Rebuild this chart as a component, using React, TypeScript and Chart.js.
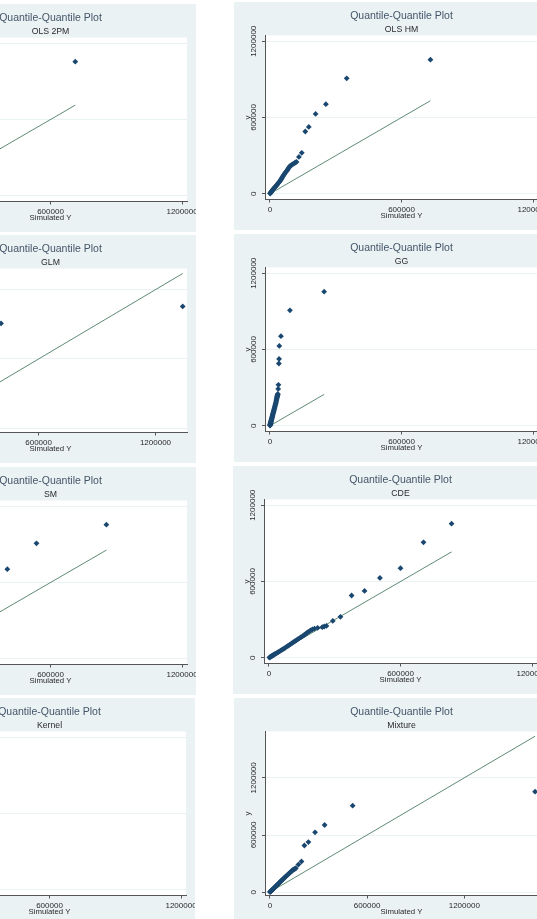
import React, { useEffect, useRef } from "react";
import { Chart, registerables } from "chart.js";

Chart.register(...registerables);

const FONT = "'Liberation Sans', Arial, Helvetica, sans-serif";
Chart.defaults.font.family = FONT;

// ---------- DATA ----------
// Observed y quantiles (sorted), shared by every panel
const observedY = [
  2000, 5000, 8000, 11000, 14000, 18000, 22000, 26000, 30000, 35000,
  40000, 45000, 50000, 56000, 62000, 68000, 74000, 80000, 87000, 94000,
  101000, 108000, 115000, 122000, 130000, 138000, 146000, 154000, 162000, 170000,
  178000, 186000, 194000, 202000, 210000, 218000, 224000, 230000, 236000, 241000,
  246000, 251000, 290000, 322000, 490000, 526000, 628000, 705000, 908000, 1055000,
];

// Simulated Y quantiles per model (sorted)
const simOLS2PM = [
  600, 1800, 3200, 4500, 6000, 7800, 9600, 11500, 13500, 16000,
  18500, 21000, 23500, 26500, 29500, 32500, 35500, 38500, 42000, 45500,
  49000, 52000, 55000, 58000, 61000, 64500, 68000, 71000, 74000, 77500,
  81000, 84500, 88000, 91500, 95000, 98500, 101000, 104000, 107000, 110000,
  113000, 117000, 125000, 140000, 158000, 180000, 215000, 260000, 330000, 713000,
];
const simOLSHM = [
  500, 1500, 2800, 4000, 5200, 6800, 8500, 10200, 12000, 14000,
  16500, 19000, 21500, 24500, 27500, 30500, 33000, 36000, 39500, 43000,
  46000, 48500, 51000, 53500, 56000, 59000, 62000, 65000, 68000, 71500,
  75000, 79000, 82000, 85000, 88000, 91000, 96000, 101000, 106000, 111000,
  116000, 121000, 132000, 145000, 161000, 177000, 208000, 255000, 350000, 732000,
];
const simGLM = [
  1500, 3500, 5500, 7500, 9500, 12000, 14500, 17000, 19500, 23000,
  26000, 29500, 32500, 36500, 40500, 44500, 48500, 52500, 57000, 61500,
  66000, 70500, 75000, 79500, 85000, 90000, 95000, 100000, 105000, 110000,
  115000, 120000, 125500, 131000, 136000, 141000, 145000, 149000, 153000, 157000,
  161000, 165000, 175000, 190000, 215000, 240000, 280000, 330000, 407000, 1340000,
];
const simGG = [
  200, 500, 900, 1300, 1700, 2200, 2800, 3400, 4000, 4700,
  5400, 6100, 6900, 7800, 8700, 9600, 10500, 11400, 12500, 13500,
  14600, 15600, 16700, 17800, 19000, 20200, 21400, 22600, 23800, 25000,
  26100, 27200, 28300, 29300, 30300, 31300, 32000, 32800, 33600, 34300,
  35000, 35800, 37500, 38500, 40500, 41500, 42500, 50000, 91000, 247000,
];
const simSM = [
  1500, 3800, 6000, 8300, 10500, 13500, 16500, 19500, 22500, 26000,
  30000, 34000, 37500, 42000, 46500, 51000, 55500, 60000, 65000, 70500,
  75500, 81000, 86000, 91500, 97500, 103500, 109500, 115500, 121500, 127500,
  133500, 139500, 145500, 151500, 157500, 163500, 168000, 172500, 177000, 181000,
  185000, 189000, 210000, 230000, 270000, 300000, 350000, 403000, 536000, 855000,
];
const simCDE = [
  1800, 4600, 7400, 10200, 13000, 16800, 20500, 24300, 28000, 33000,
  38000, 42500, 47500, 53000, 58500, 64000, 69500, 75000, 81000, 87000,
  93000, 99000, 105000, 111000, 118000, 125000, 132000, 139000, 146000, 153000,
  160000, 166000, 172000, 178000, 185000, 192000, 199000, 208000, 222000, 243000,
  252000, 262000, 291000, 326000, 377000, 436000, 506000, 600000, 705000, 833000,
];
const simKernel = [
  1200, 3000, 4800, 6600, 8400, 10800, 13200, 15600, 18000, 21000,
  24000, 27000, 30000, 33500, 37000, 40500, 44000, 47500, 51500, 55500,
  59500, 63500, 67500, 71500, 76000, 80500, 85000, 89500, 94000, 98500,
  103000, 107500, 112000, 116500, 121000, 125500, 129000, 132500, 136000, 139500,
  143000, 146500, 160000, 175000, 200000, 215000, 240000, 265000, 300000, 345000,
];
const simMixture = [
  800, 2500, 4300, 6200, 8000, 10500, 13000, 15500, 18000, 21000,
  24000, 27000, 30000, 33500, 37000, 40500, 44000, 47500, 51500, 55500,
  59500, 63500, 68000, 72000, 77000, 82000, 87000, 92000, 97000, 102000,
  107000, 112000, 117000, 122000, 127000, 132000, 136000, 140000, 145000, 150000,
  155000, 160000, 176000, 195000, 213000, 238000, 279000, 338000, 511000, 1637000,
];

const mainTitle = "Quantile-Quantile Plot";
const xAxisTitle = "Simulated Y";
const yAxisTitle = "y";
const xTickValues = [0, 600000, 1200000];
const yTickValues = [0, 600000, 1200000];

// ---------- LAYOUT ----------
const PANEL_W = 313;
const PANEL_H = 228;
const Y_AXIS_W = 31;
const X_AXIS_H = 30.5;
const RIGHT_PAD = 9;
const BG = "#EAF2F3";
const MARKER = "#1A476F";
const REFLINE = "#5F8C74";
const AXIS = "#555555";

type Spec = {
  name: string;
  sim: number[];
  left: number;
  top: number;
  xRange: [number, number];
  yRange: [number, number];
};

const STD_X: [number, number] = [-22800, 1222800];
const STD_Y: [number, number] = [-45000, 1245000];

const panels: Spec[] = [
  { name: "OLS 2PM", sim: simOLS2PM, left: -117, top: 4, xRange: STD_X, yRange: STD_Y },
  { name: "OLS HM", sim: simOLSHM, left: 234, top: 2, xRange: STD_X, yRange: STD_Y },
  { name: "GLM", sim: simGLM, left: -117, top: 235, xRange: [-40000, 1362000], yRange: [-37000, 1383000] },
  { name: "GG", sim: simGG, left: 234, top: 234, xRange: STD_X, yRange: STD_Y },
  { name: "SM", sim: simSM, left: -117, top: 467, xRange: STD_X, yRange: STD_Y },
  { name: "CDE", sim: simCDE, left: 233, top: 466, xRange: STD_X, yRange: STD_Y },
  { name: "Kernel", sim: simKernel, left: -118, top: 698, xRange: STD_X, yRange: STD_Y },
  { name: "Mixture", sim: simMixture, left: 234, top: 697.5, xRange: [-30000, 1655000], yRange: [-35000, 1686000] },
];

const plotBg = {
  id: "plotBg",
  beforeDraw(chart: any) {
    const { ctx, chartArea: a } = chart;
    ctx.save();
    ctx.fillStyle = BG;
    ctx.fillRect(0, 0, chart.width, chart.height);
    ctx.fillStyle = "#ffffff";
    ctx.fillRect(a.left, a.top, a.right - a.left, a.bottom - a.top);
    ctx.restore();
  },
};

function Panel({ spec }: { spec: Spec }) {
  const ref = useRef<HTMLCanvasElement | null>(null);
  useEffect(() => {
    const canvas = ref.current;
    if (!canvas) return;
    const m = document.createElement("canvas").getContext("2d")!;
    m.font = `8px ${FONT}`;
    const widest = m.measureText("1200000").width;
    const yTickPad = Y_AXIS_W - 3 - 19.3 - widest / 2;

    const pts = observedY.map((y, i) => ({ x: spec.sim[i], y }));
    const lo = Math.min(...spec.sim);
    const hi = Math.max(...spec.sim);

    const chart = new Chart(canvas, {
      type: "scatter",
      data: {
        datasets: [
          {
            type: "scatter",
            data: pts,
            pointStyle: "rectRot",
            pointRadius: 2.9,
            backgroundColor: MARKER,
            borderColor: MARKER,
            borderWidth: 0,
            order: 0,
          },
          {
            type: "line",
            data: [
              { x: lo, y: lo },
              { x: hi, y: hi },
            ],
            borderColor: REFLINE,
            borderWidth: 1,
            pointRadius: 0,
            fill: false,
            order: 1,
          },
        ],
      } as any,
      options: {
        responsive: false,
        maintainAspectRatio: false,
        animation: false,
        devicePixelRatio: 1,
        layout: { padding: { left: 0, top: 0, bottom: 0, right: RIGHT_PAD } },
        events: [],
        plugins: {
          legend: { display: false },
          tooltip: { enabled: false },
          title: {
            display: true,
            text: mainTitle,
            fullSize: false,
            color: "#44566A",
            font: { family: FONT, size: 10.5, weight: "normal" },
            padding: { top: 7.7, bottom: 0 },
          },
          subtitle: {
            display: true,
            text: spec.name,
            fullSize: false,
            color: "#2a2a2a",
            font: { family: FONT, size: 8.7, weight: "normal" },
            padding: { top: 2, bottom: 0.8 },
          },
        },
        scales: {
          x: {
            type: "linear",
            min: spec.xRange[0],
            max: spec.xRange[1],
            afterBuildTicks: (s: any) => {
              s.ticks = xTickValues.map((v) => ({ value: v }));
            },
            afterFit: (s: any) => {
              s.height = X_AXIS_H;
              s.paddingLeft = 0;
              s.paddingRight = 0;
            },
            grid: {
              drawOnChartArea: false,
              drawTicks: true,
              tickLength: 3,
              tickColor: AXIS,
              tickWidth: 1,
            },
            border: { display: true, color: AXIS, width: 1 },
            ticks: {
              autoSkip: false,
              maxRotation: 0,
              minRotation: 0,
              padding: 2.2,
              color: "#2a2a2a",
              font: { family: FONT, size: 8 },
              callback: (v: any) => String(v),
            },
            title: {
              display: true,
              text: xAxisTitle,
              color: "#2a2a2a",
              font: { family: FONT, size: 7.8 },
              padding: { top: 0, bottom: 9.3 },
            },
          },
          y: {
            type: "linear",
            min: spec.yRange[0],
            max: spec.yRange[1],
            afterBuildTicks: (s: any) => {
              s.ticks = yTickValues.map((v) => ({ value: v }));
            },
            afterFit: (s: any) => {
              s.width = Y_AXIS_W;
              s.paddingTop = 0;
              s.paddingBottom = 0;
            },
            grid: {
              drawOnChartArea: true,
              color: BG,
              lineWidth: 1,
              drawTicks: true,
              tickLength: 3,
              tickColor: AXIS,
              tickWidth: 1,
            },
            border: { display: true, color: AXIS, width: 1 },
            ticks: {
              autoSkip: false,
              minRotation: 90,
              maxRotation: 90,
              crossAlign: "center",
              padding: yTickPad,
              color: "#2a2a2a",
              font: { family: FONT, size: 8 },
              callback: (v: any) => String(v),
            },
            title: {
              display: true,
              text: yAxisTitle,
              color: "#2a2a2a",
              font: { family: FONT, size: 7.8 },
              padding: { top: 9, bottom: 0 },
            },
          },
        },
      } as any,
      plugins: [plotBg],
    });
    return () => chart.destroy();
  }, [spec]);

  return (
    <div
      style={{
        position: "absolute",
        left: spec.left,
        top: spec.top,
        width: PANEL_W,
        height: PANEL_H,
        background: BG,
      }}
    >
      <canvas
        ref={ref}
        width={PANEL_W}
        height={PANEL_H}
        style={{ display: "block", width: PANEL_W, height: PANEL_H }}
      />
    </div>
  );
}

export default function App() {
  return (
    <div
      style={{
        position: "absolute",
        left: 0,
        top: 0,
        width: 537,
        height: 919,
        overflow: "hidden",
        background: "#ffffff",
      }}
    >
      {panels.map((p) => (
        <Panel key={p.name} spec={p} />
      ))}
    </div>
  );
}
